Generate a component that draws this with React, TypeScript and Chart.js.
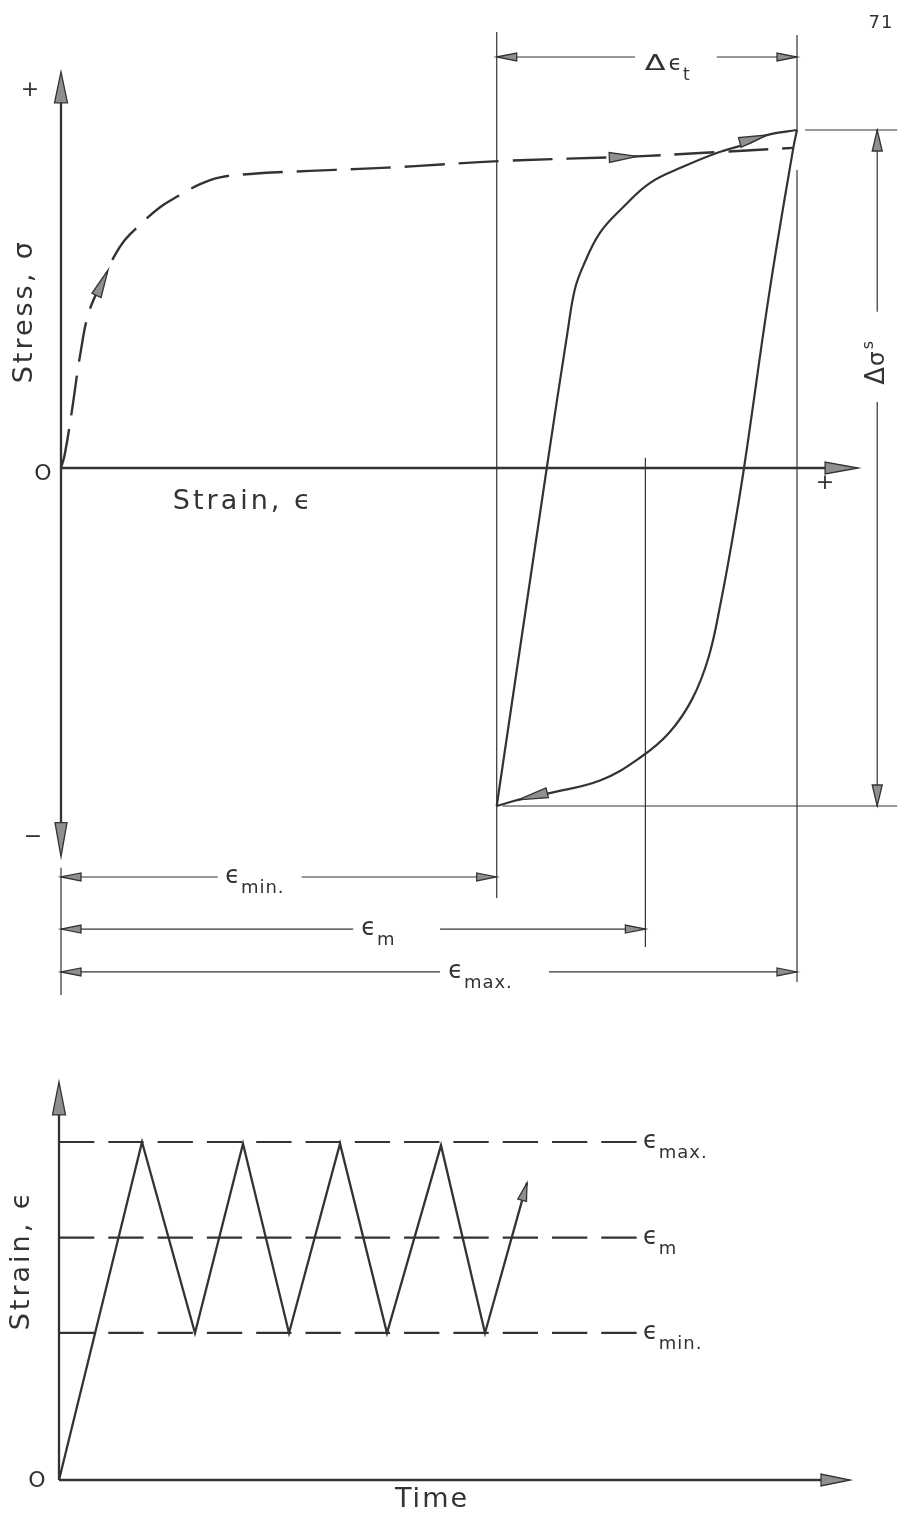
import React, { useEffect, useRef } from "react";
import { Chart, registerables } from "chart.js";

Chart.register(...registerables);

// ---------------- DATA: top figure (stress–strain hysteresis, arbitrary units) ----------------
const loadingStrain = [0, 0.05, 0.15, 0.26, 0.39, 0.64, 0.71, 0.87, 1.07, 1.35, 1.62, 1.89, 2.16, 2.57, 3.38, 4.06, 4.81, 5.95, 7.83, 8.68, 9.95];
const loadingStress = [0, 0.39, 1.72, 3.34, 4.68, 5.86, 6.21, 6.75, 7.19, 7.72, 8.08, 8.4, 8.6, 8.7, 8.79, 8.85, 8.93, 9.08, 9.22, 9.32, 9.47];
const reloadStrain = [5.92, 6.6, 6.88, 6.98, 7.09, 7.32, 7.64, 8.0, 8.45, 8.91, 9.36, 9.59, 10];
const reloadStress = [-10, 0, 3.99, 5.27, 5.95, 6.95, 7.72, 8.43, 8.91, 9.32, 9.62, 9.85, 10];
const unloadStrain = [10, 9.95, 9.63, 9.28, 9.12, 8.97, 8.8, 8.57, 8.26, 7.88, 7.34, 6.64, 6.21, 5.92];
const unloadStress = [10, 9.47, 5.27, 0, -2.13, -3.91, -5.59, -6.86, -7.84, -8.55, -9.23, -9.62, -9.82, -10];
const loadingArrowIdx = [5, 18];
const reloadArrowIdx = [11];
const unloadArrowIdx = [12];

const strainMin = 5.92;
const strainMean = 7.94;
const strainMax = 10;
const stressMax = 10;
const stressMin = -10;

// ---------------- DATA: bottom figure (strain vs time) ----------------
const cycleTime = [0, 8.3, 13.6, 18.4, 23.0, 28.1, 32.8, 38.2, 42.6, 46.8];
const cycleStrain = [0, 10, 4.35, 9.95, 4.35, 9.95, 4.35, 9.9, 4.35, 8.79];
const levelStrain = [10, 7.17, 4.35];
const levelSubs = ["max.", "m", "min."];
const levelEndTime = 57.8;

// ---------------- LAYOUT ----------------
const INK = "#333";
const ARROW_FILL = "#8f8f8f";
const FONT = '"DejaVu Sans", "Liberation Sans", sans-serif';
const W = 899;
const TOP_H = 1000;
const BOT_H = 524;
const T_SX = 73.6, T_OX = 61, T_SY = 33.8, T_OY = 468;
const topXMin = -T_OX / T_SX, topXMax = (W - T_OX) / T_SX;
const topYMax = T_OY / T_SY, topYMin = -(TOP_H - T_OY) / T_SY;
const B_SX = 10, B_OX = 59, B_SY = 33.8, B_OY = 480;
const botXMin = -B_OX / B_SX, botXMax = (W - B_OX) / B_SX;
const botYMax = B_OY / B_SY, botYMin = -(BOT_H - B_OY) / B_SY;

type Ctx = CanvasRenderingContext2D;

function seg(ctx: Ctx, x1: number, y1: number, x2: number, y2: number, w = 1.2) {
  ctx.save();
  ctx.strokeStyle = INK;
  ctx.lineWidth = w;
  ctx.lineCap = "butt";
  ctx.setLineDash([]);
  ctx.beginPath();
  ctx.moveTo(x1, y1);
  ctx.lineTo(x2, y2);
  ctx.stroke();
  ctx.restore();
}

function arrow(ctx: Ctx, tx: number, ty: number, dx: number, dy: number, len: number, half: number) {
  const d = Math.hypot(dx, dy) || 1;
  const ux = dx / d, uy = dy / d;
  const bx = tx - ux * len, by = ty - uy * len;
  const px = -uy, py = ux;
  ctx.save();
  ctx.setLineDash([]);
  ctx.beginPath();
  ctx.moveTo(tx, ty);
  ctx.lineTo(bx + px * half, by + py * half);
  ctx.lineTo(bx - px * half, by - py * half);
  ctx.closePath();
  ctx.fillStyle = ARROW_FILL;
  ctx.fill();
  ctx.strokeStyle = INK;
  ctx.lineWidth = 1.3;
  ctx.lineJoin = "miter";
  ctx.stroke();
  ctx.restore();
}

function text(ctx: Ctx, s: string, x: number, y: number, size: number, opts: any = {}) {
  ctx.save();
  ctx.translate(x, y);
  if (opts.rot) ctx.rotate(opts.rot);
  ctx.font = `${opts.weight || "normal"} ${size}px ${FONT}`;
  (ctx as any).letterSpacing = (opts.spacing || 0) + "px";
  ctx.fillStyle = INK;
  ctx.textAlign = opts.align || "center";
  ctx.textBaseline = opts.baseline || "middle";
  ctx.fillText(s, 0, 0);
  ctx.restore();
}

// ε with subscript; x = left edge, y = vertical centre of ε
function epsLabel(ctx: Ctx, x: number, y: number, sub: string, size = 24, subSize = 18) {
  ctx.save();
  ctx.fillStyle = INK;
  (ctx as any).letterSpacing = "0px";
  ctx.font = `${size}px ${FONT}`;
  ctx.textAlign = "left";
  ctx.textBaseline = "middle";
  ctx.fillText("ϵ", x, y);
  const w = ctx.measureText("ϵ").width;
  ctx.font = `${subSize}px ${FONT}`;
  ctx.textBaseline = "alphabetic";
  (ctx as any).letterSpacing = "1px";
  ctx.fillText(sub, x + w + 1, y + 16);
  ctx.restore();
}

function hDim(ctx: Ctx, x1: number, x2: number, y: number, g1: number, g2: number) {
  seg(ctx, x1, y, g1, y, 1.2);
  seg(ctx, g2, y, x2, y, 1.2);
  arrow(ctx, x1, y, -1, 0, 20, 4);
  arrow(ctx, x2, y, 1, 0, 20, 4);
}

function vDim(ctx: Ctx, x: number, y1: number, y2: number, g1: number, g2: number) {
  seg(ctx, x, y1, x, g1, 1.2);
  seg(ctx, x, g2, x, y2, 1.2);
  arrow(ctx, x, y1, 0, -1, 21, 5);
  arrow(ctx, x, y2, 0, 1, 21, 5);
}

function curveArrows(chart: any, dsIndex: number, idxs: number[], len: number, half: number) {
  const pts = chart.getDatasetMeta(dsIndex).data;
  idxs.forEach((i) => {
    const p = pts[i], a = pts[i - 1], b = pts[i + 1] || pts[i];
    arrow(chart.ctx, p.x, p.y, b.x - a.x, b.y - a.y, len, half);
  });
}

const topDecor = {
  id: "topDecor",
  afterDatasetsDraw(chart: any) {
    const ctx: Ctx = chart.ctx;
    const X = (v: number) => chart.scales.x.getPixelForValue(v);
    const Y = (v: number) => chart.scales.y.getPixelForValue(v);

    // axes
    seg(ctx, X(0), Y(0), X(10.83) - 25, Y(0), 2.3);
    arrow(ctx, X(10.83), Y(0), 1, 0, 33, 6);
    seg(ctx, X(0), Y(11.72) + 25, X(0), Y(-11.5) - 25, 2.3);
    arrow(ctx, X(0), Y(11.72), 0, -1, 31, 6.5);
    arrow(ctx, X(0), Y(-11.5), 0, 1, 34, 6);

    // extension lines
    seg(ctx, X(0), Y(-11.83), X(0), Y(-15.59));
    seg(ctx, X(strainMin), Y(12.9), X(strainMin), Y(-12.72));
    seg(ctx, X(strainMean), Y(0.3), X(strainMean), Y(-14.17));
    seg(ctx, X(strainMax), Y(12.81), X(strainMax), Y(stressMax));
    seg(ctx, X(strainMax), Y(8.82), X(strainMax), Y(-15.21));
    seg(ctx, X(10.11), Y(stressMax), X(11.36), Y(stressMax));
    seg(ctx, X(6.0), Y(stressMin), X(11.36), Y(stressMin));

    // dimension lines
    hDim(ctx, X(strainMin), X(strainMax), Y(12.16), X(7.8), X(8.91));
    hDim(ctx, X(0), X(strainMin), Y(-12.1), X(2.13), X(3.27));
    hDim(ctx, X(0), X(strainMean), Y(-13.64), X(3.97), X(5.15));
    hDim(ctx, X(0), X(strainMax), Y(-14.91), X(5.15), X(6.63));
    vDim(ctx, X(11.09), Y(stressMax), Y(stressMin), Y(4.62), Y(1.95));

    // dimension labels
    epsLabel(ctx, X(2.23), Y(-12.1), "min.");
    epsLabel(ctx, X(4.08), Y(-13.64), "m");
    epsLabel(ctx, X(5.26), Y(-14.91), "max.");

    // Δε_t
    ctx.save();
    ctx.fillStyle = INK;
    ctx.textAlign = "left";
    ctx.textBaseline = "alphabetic";
    const dx0 = X(7.93), by = Y(12.16) + 13;
    ctx.save();
    ctx.translate(dx0, by);
    ctx.scale(1.45, 1);
    ctx.font = `21px ${FONT}`;
    ctx.fillText("Δ", 0, 0);
    const wd = ctx.measureText("Δ").width * 1.45;
    ctx.restore();
    ctx.font = `22px ${FONT}`;
    ctx.fillText("ϵ", dx0 + wd + 3, by);
    const we = ctx.measureText("ϵ").width;
    ctx.font = `17px ${FONT}`;
    ctx.fillText("t", dx0 + wd + we + 4, by + 10);
    ctx.restore();

    // Δσ_s (rotated)
    ctx.save();
    ctx.translate(X(11.05), Y(3.11));
    ctx.rotate(-Math.PI / 2);
    ctx.fillStyle = INK;
    ctx.textAlign = "left";
    ctx.textBaseline = "alphabetic";
    ctx.font = `26px ${FONT}`;
    const wD = ctx.measureText("Δ").width;
    ctx.font = `23px ${FONT}`;
    const wS = ctx.measureText("σ").width;
    ctx.font = `16px ${FONT}`;
    const w2 = ctx.measureText("s").width;
    const sx = -(wD + wS + w2 + 3) / 2;
    ctx.font = `26px ${FONT}`;
    ctx.fillText("Δ", sx, 10);
    ctx.font = `23px ${FONT}`;
    ctx.fillText("σ", sx + wD + 1, 10);
    ctx.font = `16px ${FONT}`;
    ctx.fillText("s", sx + wD + wS + 3, -1);
    ctx.restore();

    // axis titles and signs
    text(ctx, "Strain, ϵ", X(1.52), Y(-1.0), 27, { align: "left", spacing: 3 });
    text(ctx, "Stress, σ", X(-0.49), Y(4.64), 27, { rot: -Math.PI / 2, spacing: 3 });
    text(ctx, "+", X(-0.42), Y(11.18), 22);
    text(ctx, "−", X(-0.38), Y(-10.92), 22);
    text(ctx, "O", X(-0.245), Y(-0.18), 22);
    text(ctx, "+", X(10.38), Y(-0.44), 22);
    text(ctx, "71", X(11.14), Y(13.17), 18, { spacing: 1 });

    // direction arrows on the curves
    curveArrows(chart, 0, loadingArrowIdx, 28, 5);
    curveArrows(chart, 1, reloadArrowIdx, 28, 5);
    curveArrows(chart, 2, unloadArrowIdx, 30, 5);
  },
};

const botDecor = {
  id: "botDecor",
  afterDatasetsDraw(chart: any) {
    const ctx: Ctx = chart.ctx;
    const X = (v: number) => chart.scales.x.getPixelForValue(v);
    const Y = (v: number) => chart.scales.y.getPixelForValue(v);

    seg(ctx, X(0), Y(0), X(79.1) - 25, Y(0), 2.3);
    arrow(ctx, X(79.1), Y(0), 1, 0, 29, 6);
    seg(ctx, X(0), Y(0), X(0), Y(11.78) + 25, 2.3);
    arrow(ctx, X(0), Y(11.78), 0, -1, 33, 6.5);

    levelStrain.forEach((v, i) => epsLabel(ctx, X(58.4), Y(v), levelSubs[i]));

    text(ctx, "O", X(-2.2), Y(-0.03), 22);
    text(ctx, "Time", X(37.3), Y(-0.59), 27, { spacing: 2 });
    text(ctx, "Strain, ϵ", X(-3.7), Y(6.51), 27, { rot: -Math.PI / 2, spacing: 3 });

    const pts = chart.getDatasetMeta(levelStrain.length).data;
    const n = pts.length;
    arrow(ctx, pts[n - 1].x, pts[n - 1].y, pts[n - 1].x - pts[n - 2].x, pts[n - 1].y - pts[n - 2].y, 18, 4.5);
  },
};

const toPts = (xs: number[], ys: number[]) => xs.map((x, i) => ({ x, y: ys[i] }));

function baseOptions(xmin: number, xmax: number, ymin: number, ymax: number): any {
  return {
    responsive: false,
    animation: false,
    events: [],
    layout: { padding: 0 },
    plugins: { legend: { display: false }, tooltip: { enabled: false } },
    elements: { point: { radius: 0 } },
    scales: {
      x: { type: "linear", min: xmin, max: xmax, bounds: "data", display: false },
      y: { type: "linear", min: ymin, max: ymax, bounds: "data", display: false },
    },
  };
}

export default function App() {
  const topRef = useRef<HTMLCanvasElement>(null);
  const botRef = useRef<HTMLCanvasElement>(null);

  useEffect(() => {
    const line = { showLine: true, fill: false, pointRadius: 0, borderColor: INK, borderCapStyle: "butt" };
    const top = new Chart(topRef.current as HTMLCanvasElement, {
      type: "scatter",
      data: {
        datasets: [
          { ...line, data: toPts(loadingStrain, loadingStress), borderWidth: 2.4, borderDash: [40, 14], tension: 0.4 },
          { ...line, data: toPts(reloadStrain, reloadStress), borderWidth: 2.2, tension: 0.4 },
          { ...line, data: toPts(unloadStrain, unloadStress), borderWidth: 2.2, tension: 0.4 },
        ],
      } as any,
      options: baseOptions(topXMin, topXMax, topYMin, topYMax),
      plugins: [topDecor],
    });
    const bottom = new Chart(botRef.current as HTMLCanvasElement, {
      type: "scatter",
      data: {
        datasets: [
          ...levelStrain.map((v) => ({
            ...line,
            data: [{ x: 0, y: v }, { x: levelEndTime, y: v }],
            borderWidth: 2.2,
            borderDash: [35.3, 14],
          })),
          { ...line, data: toPts(cycleTime, cycleStrain), borderWidth: 2.3, tension: 0 },
        ],
      } as any,
      options: baseOptions(botXMin, botXMax, botYMin, botYMax),
      plugins: [botDecor],
    });
    return () => {
      top.destroy();
      bottom.destroy();
    };
  }, []);

  return (
    <div style={{ position: "absolute", left: 0, top: 0, width: W, height: TOP_H + BOT_H, background: "#fff" }}>
      <canvas ref={topRef} width={W} height={TOP_H} style={{ position: "absolute", left: 0, top: 0, width: W, height: TOP_H }} />
      <canvas ref={botRef} width={W} height={BOT_H} style={{ position: "absolute", left: 0, top: TOP_H, width: W, height: BOT_H }} />
    </div>
  );
}
